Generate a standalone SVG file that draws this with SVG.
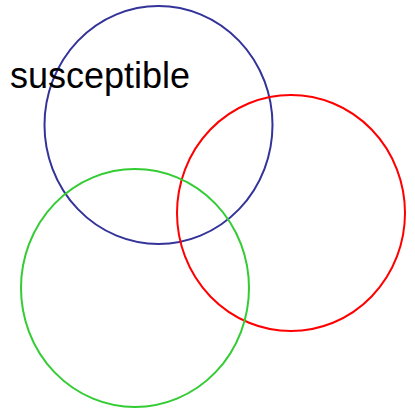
<svg xmlns="http://www.w3.org/2000/svg" width="415" height="408" viewBox="0 0 415 408">
<style>
.c{fill:none;stroke-width:2}
.t{font-family:"Liberation Sans",Arial,sans-serif;font-size:36px;fill:#000}
</style>
<rect width="415" height="408" fill="#fff"/>
<g id="blue"><ellipse class="c" cx="158.5" cy="125" rx="114" ry="119" stroke="#333399"/></g>
<g id="red"><ellipse class="c" cx="291" cy="213" rx="114" ry="118" stroke="#ff0000"/></g>
<g id="green"><ellipse class="c" cx="135" cy="288" rx="114" ry="119" stroke="#33cc33"/></g>
<g id="label"><text class="t" x="10" y="88">susceptible</text></g>
<g id="connectors"/>
</svg>
